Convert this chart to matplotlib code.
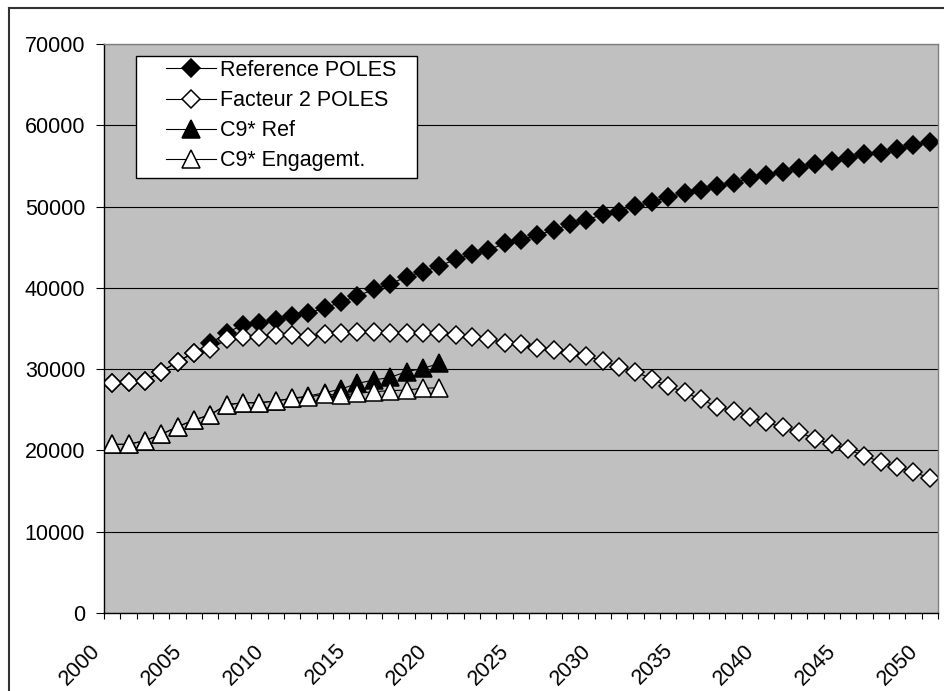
import matplotlib
matplotlib.use('Agg')
import matplotlib.pyplot as plt
import numpy as np
from matplotlib.lines import Line2D
from matplotlib.patches import Rectangle
from matplotlib.transforms import ScaledTranslation

plt.rcParams['font.family'] = ['Liberation Sans', 'DejaVu Sans']

years = list(range(2000, 2051))

reference_poles = [
    28250, 28450, 28580, 29690, 30920, 32020, 33170, 34500, 35420, 35630,
    36040, 36530, 36940, 37480, 38290, 38990, 39820, 40470, 41370, 41980,
    42680, 43500, 44120, 44650, 45470, 45880, 46490, 47110, 47810, 48340,
    49040, 49360, 50100, 50510, 51210, 51620, 52030, 52520, 52850, 53540,
    53870, 54280, 54770, 55190, 55600, 56000, 56420, 56620, 57070, 57560,
    57900,
]

facteur2_poles = [
    28250, 28450, 28580, 29690, 30920, 32020, 32430, 33660, 33910, 33910,
    34190, 34190, 33990, 34280, 34400, 34600, 34600, 34400, 34400, 34400,
    34400, 34190, 33910, 33700, 33250, 33050, 32630, 32350, 32020, 31610,
    31000, 30300, 29680, 28780, 27920, 27150, 26290, 25380, 24850, 24150,
    23450, 22840, 22230, 21400, 20750, 20140, 19310, 18610, 18000, 17310,
    16640,
]

# C9* series only run 2000-2020
c9_years = list(range(2000, 2021))
c9_ref = [
    20750, 20750, 21200, 21980, 22920, 23740, 24390, 25620, 25870, 25870,
    26080, 26410, 26700, 27100, 27550, 28250, 28660, 28990, 29690, 30090,
    30710,
]
c9_engagement = [
    20750, 20750, 21200, 21980, 22920, 23740, 24390, 25620, 25870, 25870,
    26080, 26410, 26570, 26900, 26810, 27020, 27230, 27350, 27430, 27640,
    27720,
]

labels = ['Reference POLES', 'Facteur 2 POLES', 'C9* Ref', 'C9* Engagemt.']
y_ticks = list(range(0, 70001, 10000))
label_years = list(range(2000, 2051, 5))

FS = 15.5
W, H = 944, 691
fig = plt.figure(figsize=(W / 100, H / 100), dpi=100)
fig.patch.set_facecolor('white')

# plot area in pixel terms
left, right, top, bottom = 104, 938, 44, 613
ax = fig.add_axes([left / W, (H - bottom) / H, (right - left) / W, (bottom - top) / H])
ax.set_facecolor('#C0C0C0')

x_all = np.arange(len(years))
x_c9 = np.arange(len(c9_years))

style = dict(color='black', linewidth=0.8, markeredgecolor='black', markeredgewidth=1.1)
ax.plot(x_all, reference_poles, marker='D', markersize=9.3, markerfacecolor='black',
        label=labels[0], **style)
ax.plot(x_all, facteur2_poles, marker='D', markersize=9.3, markerfacecolor='white',
        label=labels[1], **style)
ax.plot(x_c9, c9_ref, marker='^', markersize=12.5, markerfacecolor='black',
        label=labels[2], **style)
ax.plot(x_c9, c9_engagement, marker='^', markersize=12.5, markerfacecolor='white',
        label=labels[3], **style)

ax.set_xlim(-0.5, len(years) - 0.5)
ax.set_ylim(0, 70000)

ax.set_yticks(y_ticks)
ax.set_yticklabels([str(v) for v in y_ticks], fontsize=FS)
ax.tick_params(axis='y', direction='out', length=5.5, width=0.8, pad=8, color='black')

ax.set_xticks([years.index(y) for y in label_years])
ax.set_xticklabels([str(y) for y in label_years], fontsize=FS, rotation=45,
                   ha='right', va='center', rotation_mode='anchor')
ax.set_xticks(np.arange(-0.5, len(years), 1.0), minor=True)
ax.tick_params(axis='x', which='major', length=0, pad=25)
ax.tick_params(axis='x', which='minor', direction='out', length=4.5, width=0.8, color='black')
shift = ScaledTranslation(-15 / 100, 0, fig.dpi_scale_trans)
for lab in ax.get_xticklabels():
    lab.set_transform(lab.get_transform() + shift)

ax.yaxis.grid(True, color='black', linewidth=0.8)
ax.set_axisbelow(True)

ax.spines['left'].set_color('black')
ax.spines['bottom'].set_color('black')
for s in ('top', 'right'):
    ax.spines[s].set_color('#808080')
for s in ax.spines.values():
    s.set_linewidth(1.0)

# legend box drawn by hand so the side padding can differ from the top padding
def to_ax(px, py):
    return (px - left) / (right - left), (bottom - py) / (bottom - top)

bx0, by0 = to_ax(136, 178)
bx1, by1 = to_ax(417, 56)
ax.add_patch(Rectangle((bx0, by0), bx1 - bx0, by1 - by0, transform=ax.transAxes,
                       facecolor='white', edgecolor='black', linewidth=1.0,
                       zorder=4.5, clip_on=False))
lx, ly = to_ax(166, 60)
ax.legend(loc='upper left', bbox_to_anchor=(lx, ly), frameon=False, fontsize=FS,
          borderpad=0, borderaxespad=0, handlelength=2.3, handletextpad=0.2,
          labelspacing=0.42, numpoints=1)

# outer chart frame (cut off at the right and bottom in the source)
fig.add_artist(Line2D([9 / W, 1], [1 - 8 / H, 1 - 8 / H], transform=fig.transFigure,
                      color='#333333', linewidth=1.5))
fig.add_artist(Line2D([9 / W, 9 / W], [0, 1 - 8 / H], transform=fig.transFigure,
                      color='#333333', linewidth=1.5))

fig.savefig('out.png', dpi=100)
